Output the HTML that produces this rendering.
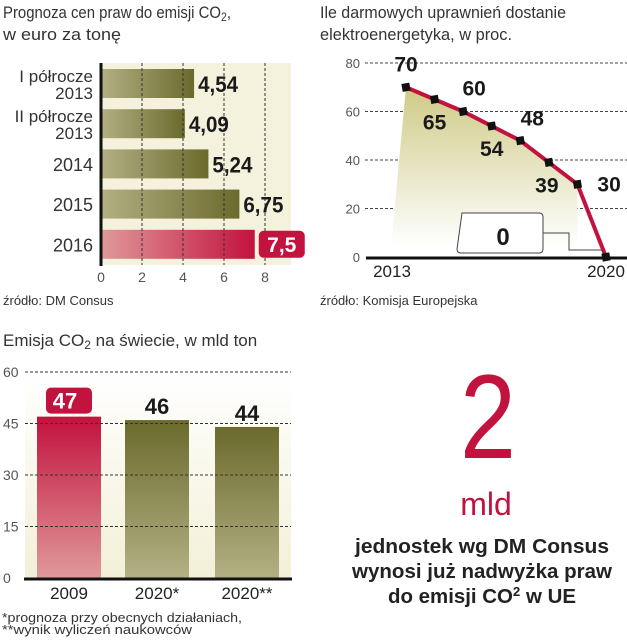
<!DOCTYPE html>
<html><head><meta charset="utf-8"><style>
html,body{margin:0;padding:0;background:#fff;}
svg{display:block;font-family:"Liberation Sans",sans-serif;}
</style></head><body>
<svg width="627" height="640" viewBox="0 0 627 640" xmlns="http://www.w3.org/2000/svg">
<defs>
<linearGradient id="olH" x1="0" x2="1" y1="0" y2="0"><stop offset="0" stop-color="#b3b084"/><stop offset="1" stop-color="#6b6a2c"/></linearGradient>
<linearGradient id="redH" x1="0" x2="1" y1="0" y2="0"><stop offset="0" stop-color="#e0999a"/><stop offset="1" stop-color="#c2123e"/></linearGradient>
<linearGradient id="olV" x1="0" x2="0" y1="0" y2="1"><stop offset="0" stop-color="#6b6a2c"/><stop offset="1" stop-color="#b3b084"/></linearGradient>
<linearGradient id="redV" x1="0" x2="0" y1="0" y2="1"><stop offset="0" stop-color="#c2123e"/><stop offset="1" stop-color="#e0999a"/></linearGradient>
<linearGradient id="areaG" x1="0" x2="0" y1="0" y2="1"><stop offset="0" stop-color="#cfca86"/><stop offset="1" stop-color="#ffffff"/></linearGradient>
<linearGradient id="creamV" x1="0" x2="0" y1="0" y2="1"><stop offset="0" stop-color="#ffffff"/><stop offset="1" stop-color="#f3f0d8"/></linearGradient>
</defs>

<text x="3" y="18" font-size="17" fill="#333" textLength="228" lengthAdjust="spacingAndGlyphs">Prognoza cen praw do emisji CO<tspan font-size="12" dy="3">2</tspan><tspan dy="-3">,</tspan></text>
<text x="3" y="40" font-size="17" fill="#333" textLength="118" lengthAdjust="spacingAndGlyphs">w euro za tonę</text>
<text x="320" y="18" font-size="17" fill="#333" textLength="246" lengthAdjust="spacingAndGlyphs">Ile darmowych uprawnień dostanie</text>
<text x="320" y="40" font-size="17" fill="#333" textLength="192" lengthAdjust="spacingAndGlyphs">elektroenergetyka, w proc.</text>

<g id="c1"></g>
<text x="3" y="305" font-size="13" fill="#333">źródło: DM Consus</text>

<g id="c2"></g>
<text x="320" y="305" font-size="13" fill="#333">źródło: Komisja Europejska</text>

<text x="3" y="346" font-size="17" fill="#333">Emisja CO<tspan font-size="12" dy="3">2</tspan><tspan dy="-3"> na świecie, w mld ton</tspan></text>
<g id="c3"></g>
<text x="2" y="622" font-size="13" fill="#333" textLength="240" lengthAdjust="spacingAndGlyphs">*prognoza przy obecnych działaniach,</text>
<text x="2" y="634" font-size="13" fill="#333" textLength="190" lengthAdjust="spacingAndGlyphs">**wynik wyliczeń naukowców</text>

<text x="488" y="458" font-size="120" fill="#c2123e" text-anchor="middle" textLength="56" lengthAdjust="spacingAndGlyphs">2</text>
<text x="486" y="515" font-size="32" fill="#c2123e" text-anchor="middle">mld</text>
<text x="482" y="553" font-size="20" font-weight="bold" fill="#222" text-anchor="middle" textLength="254" lengthAdjust="spacingAndGlyphs">jednostek wg DM Consus</text>
<text x="482" y="578" font-size="20" font-weight="bold" fill="#222" text-anchor="middle" textLength="260" lengthAdjust="spacingAndGlyphs">wynosi już nadwyżka praw</text>
<text x="482" y="603" font-size="20" font-weight="bold" fill="#222" text-anchor="middle" textLength="188" lengthAdjust="spacingAndGlyphs">do emisji CO<tspan font-size="13" dy="-7">2</tspan><tspan dy="7"> w UE</tspan></text>
</svg>
<script>
const NS="http://www.w3.org/2000/svg";
const c1Categories=[["I półrocze","2013"],["II półrocze","2013"],["2014"],["2015"],["2016"]];
const c1Values=[4.54,4.09,5.24,6.75,7.5];
const c1Labels=["4,54","4,09","5,24","6,75","7,5"];
const c1Ticks=[0,2,4,6,8];
const c2Values=[70,65,60,54,48,39,30,0];
const c2Labels=["70","65","60","54","48","39","30","0"];
const c2Ticks=[0,20,40,60,80];
const c2XLabels=["2013","2020"];
const c3Categories=["2009","2020*","2020**"];
const c3Values=[47,46,44];
const c3Ticks=[0,15,30,45,60];

function mk(tag,attrs,parent,txt){const e=document.createElementNS(NS,tag);for(const k in attrs)e.setAttribute(k,attrs[k]);if(txt!==undefined)e.textContent=txt;parent.appendChild(e);return e;}

(function(){
const g=document.getElementById('c1');
const x0=101,sx=20.5,bandTop=64,bandH=40.2,barH=29;
const X=v=>x0+v*sx;
const bg=mk('rect',{x:x0,y:63,width:190,height:202,fill:'#f4f1dc'},g);


c1Values.forEach((v,i)=>{
  const y=bandTop+5+i*bandH;
  const r=mk('rect',{x:x0,y:y,width:X(v)-x0,height:barH,fill:i===4?'url(#redH)':'url(#olH)'},g);
  
  
});
c1Ticks.forEach(t=>{
  if(t>0){const l=mk('line',{x1:X(t),x2:X(t),y1:63,y2:265,stroke:'#333','stroke-width':1,'stroke-dasharray':'3,2'},g);
  
  }
  const tx=mk('text',{x:X(t),y:282,'font-size':14,fill:'#555','text-anchor':'middle'},g,String(t));
  
  
});
const ax=mk('line',{x1:x0,x2:x0,y1:63,y2:266,stroke:'#111','stroke-width':3},g);


c1Values.forEach((v,i)=>{
  const y=bandTop+5+i*bandH;
  const cat=c1Categories[i];
  cat.forEach((s,j)=>{
    const yy=cat.length===1?y+barH/2+7:y+13+j*17;
    const t=mk('text',{x:93,y:yy,'font-size':cat.length===1?18:17,fill:'#333','text-anchor':'end'},g,s);
    
    
  });
  if(i===4){
    const b=mk('rect',{x:X(v)+4,y:y+1,width:46,height:27,rx:5,fill:'#c2123e'},g);
    
    
    const t=mk('text',{x:X(v)+27,y:y+22,'font-size':21,'font-weight':'bold',fill:'#fff','text-anchor':'middle'},g,c1Labels[i]);
    
    
  } else {
    const t=mk('text',{x:X(v)+4,y:y+23,'font-size':22,'font-weight':'bold',fill:'#1a1a1a',textLength:c1Labels[i].length*10,lengthAdjust:'spacingAndGlyphs'},g,c1Labels[i]);
    
    
  }
});
})();

(function(){
const g=document.getElementById('c2');
const y0=257,sy=194/80,xa=406,xb=606;
const Y=v=>y0-v*sy;
const X=i=>xa+i*(xb-xa)/(c2Values.length-1);
c2Ticks.forEach(t=>{
  if(t>0){const l=mk('line',{x1:365,x2:627,y1:Y(t),y2:Y(t),stroke:'#444','stroke-width':1,'stroke-dasharray':'3,2'},g);
  
  }
  const tx=mk('text',{x:360,y:Y(t)+5,'font-size':13,fill:'#555','text-anchor':'end'},g,String(t));
  
  
});
let d='M'+(xa-15)+','+(y0-10)+' L'+X(0)+','+Y(c2Values[0]);
for(let i=1;i<c2Values.length-1;i++)d+=' L'+X(i)+','+Y(c2Values[i]);
d+=' L'+X(c2Values.length-2)+','+(y0-10)+' Z';
const area=mk('path',{d:d,fill:'url(#areaG)'},g);


let ld='';c2Values.forEach((v,i)=>{ld+=(i?' L':'M')+X(i)+','+Y(v);});
const line=mk('path',{d:ld,fill:'none',stroke:'#c2123e','stroke-width':4},g);


const base=mk('line',{x1:366,x2:627,y1:y0+1,y2:y0+1,stroke:'#111','stroke-width':3},g);


const n=c2Values.length-1;
const conn=mk('path',{d:'M543,233 L569,233 L569,250 L'+(X(n)-3)+',250',fill:'none',stroke:'#444','stroke-width':1},g);


const box=mk('path',{d:'M462,213 L539,213 Q543,213 543,217 L543,249 Q543,253 539,253 L461,253 Q457,253 457,249 Z',fill:'#fff',stroke:'#444','stroke-width':1},g);


const offs=[[0,-16],[0,30],[11,-16],[0,30],[12,-15],[-2,30],[20,7],[-103,-12]];
c2Values.forEach((v,i)=>{
  const m=mk('rect',{x:X(i)-4,y:Y(v)-4,width:8,height:8,fill:'#111',transform:'rotate(-10 '+X(i)+' '+Y(v)+')'},g);
  
  
  const o=offs[i]||[0,-14];
  const t=mk('text',{x:X(i)+o[0],y:Y(v)+o[1],'font-size':i===n?24:21,'font-weight':'bold',fill:'#1a1a1a','text-anchor':i===6?'start':'middle'},g,c2Labels[i]);
  
  
});
c2XLabels.forEach((s,i)=>{
  const t=mk('text',{x:i?X(n):X(0)-14,y:277,'font-size':17,fill:'#222','text-anchor':'middle'},g,s);
  
  
});
})();

(function(){
const g=document.getElementById('c3');
const y0=578,sy=206/60,bx=[37,125,215],bw=64;
const Y=v=>y0-v*sy;
const bg=mk('rect',{x:25,y:372,width:266,height:206,fill:'url(#creamV)'},g);


c3Values.forEach((v,i)=>{
  const r=mk('rect',{x:bx[i],y:Y(v),width:bw,height:y0-Y(v),fill:i===0?'url(#redV)':'url(#olV)'},g);
  
  
});
c3Ticks.forEach(t=>{
  if(t>0){const l=mk('line',{x1:25,x2:291,y1:Y(t),y2:Y(t),stroke:'#333','stroke-width':1,'stroke-dasharray':'3,2'},g);
  
  }
  const tx=mk('text',{x:3,y:Y(t)+5,'font-size':14,fill:'#555'},g,String(t));
  
  
});
const base=mk('line',{x1:24,x2:292,y1:y0+1,y2:y0+1,stroke:'#111','stroke-width':3},g);


c3Values.forEach((v,i)=>{
  const cx=bx[i]+bw/2;
  if(i===0){
    const b=mk('rect',{x:cx-23,y:Y(v)-29,width:46,height:26,rx:5,fill:'#c2123e'},g);
    
    
    const t=mk('text',{x:cx-4,y:Y(v)-8,'font-size':22,'font-weight':'bold',fill:'#fff','text-anchor':'middle'},g,String(v));
    
    
  } else {
    const t=mk('text',{x:cx,y:Y(v)-6,'font-size':22,'font-weight':'bold',fill:'#1a1a1a','text-anchor':'middle'},g,String(v));
    
    
  }
  const c=mk('text',{x:cx,y:599,'font-size':17,fill:'#222','text-anchor':'middle'},g,c3Categories[i]);
  
  
});
})();
</script>
</body></html>
